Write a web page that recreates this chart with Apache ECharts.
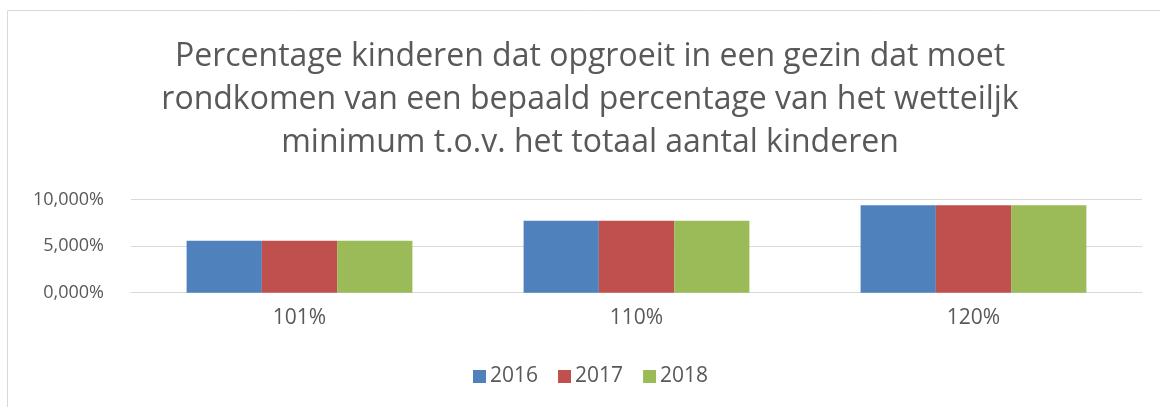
<!DOCTYPE html>
<html>
<head>
<meta charset="utf-8">
<script src="https://cdn.jsdelivr.net/npm/echarts@6/dist/echarts.min.js"></script>
<style>
  html, body { margin: 0; padding: 0; background: #fff; }
  #chart { width: 1160px; height: 407px; }
</style>
</head>
<body>
<div id="chart"></div>
<script>
// categorieën en waarden (in procent)
const categories = ['101%', '110%', '120%']
const s2016 = [5.59, 7.74, 9.40]
const s2017 = [5.59, 7.74, 9.40]
const s2018 = [5.59, 7.74, 9.40]
const yTicks = [0, 5, 10]

const textColor = '#595959'
const font = 'Open Sans'

const chart = echarts.init(document.getElementById('chart'))

const option = {
  animation: false,
  color: ['#4F81BD', '#C0504D', '#9BBB59'],
  graphic: [{
    type: 'rect',
    shape: { x: 7.5, y: 10.5, width: 1300, height: 600 },
    style: { fill: 'none', stroke: '#D9D9D9', lineWidth: 1 },
    silent: true
  }],
  title: {
    text: 'Percentage kinderen dat opgroeit in een gezin dat moet\nrondkomen van een bepaald percentage van het wetteiljk\nminimum t.o.v. het totaal aantal kinderen',
    left: 590,
    textAlign: 'center',
    top: 35,
    padding: 0,
    textStyle: {
      fontFamily: font,
      fontSize: 32,
      fontWeight: 'normal',
      lineHeight: 43,
      color: textColor
    }
  },
  legend: {
    data: ['2016', '2017', '2018'],
    left: 473,
    top: 366,
    padding: 0,
    itemWidth: 13,
    itemHeight: 13,
    itemGap: 20,
    icon: 'rect',
    textStyle: { fontFamily: font, fontSize: 21, color: textColor, padding: [0, 0, 0, -1] }
  },
  grid: {
    left: 131,
    right: 18,
    top: 199.7,
    bottom: 114.3,
    containLabel: false
  },
  xAxis: {
    type: 'category',
    data: categories,
    axisLine: { show: true, lineStyle: { color: '#D9D9D9', width: 1 } },
    axisTick: { show: false },
    axisLabel: { fontFamily: font, fontSize: 21, color: textColor, margin: 15 }
  },
  yAxis: {
    type: 'value',
    min: yTicks[0],
    max: yTicks[yTicks.length - 1],
    interval: 5,
    axisLine: { show: false },
    axisTick: { show: false },
    splitLine: { lineStyle: { color: '#D9D9D9', width: 1 } },
    axisLabel: {
      fontFamily: font,
      fontSize: 18,
      color: textColor,
      margin: 27,
      formatter: v => v.toFixed(3).replace('.', ',') + '%'
    }
  },
  series: [
    { name: '2016', type: 'bar', data: s2016, barGap: '0%', barCategoryGap: '33%' },
    { name: '2017', type: 'bar', data: s2017, barGap: '0%', barCategoryGap: '33%' },
    { name: '2018', type: 'bar', data: s2018, barGap: '0%', barCategoryGap: '33%' }
  ]
}

chart.setOption(option)
</script>
</body>
</html>
